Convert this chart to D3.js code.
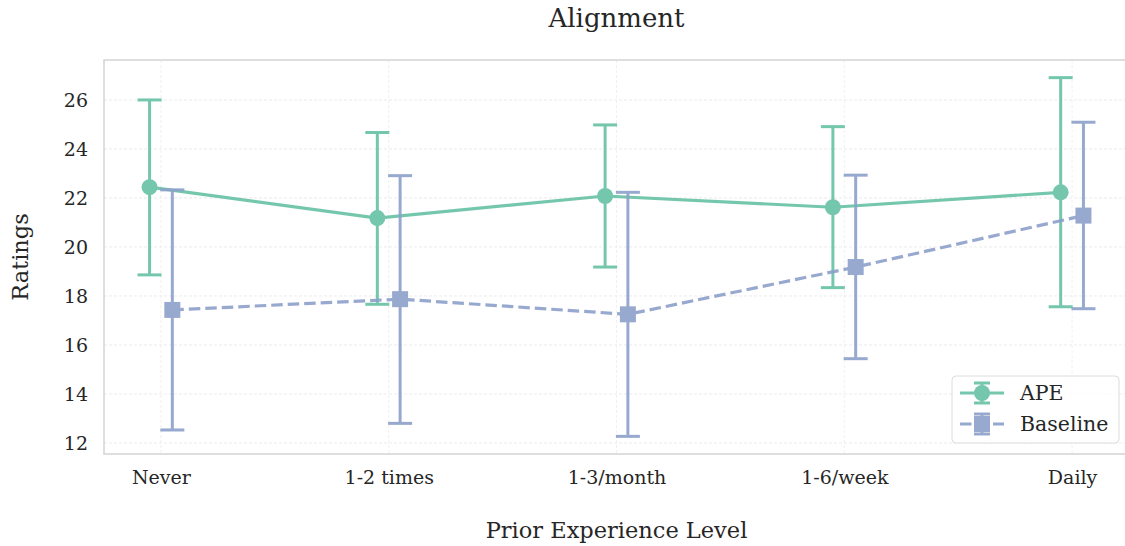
<!DOCTYPE html>
<html>
<head>
<meta charset="utf-8">
<script src="https://cdn.jsdelivr.net/npm/d3@7"></script>
<style>
  html, body { margin: 0; padding: 0; background: #fff; overflow: hidden; }
  svg { display: block; }
  text { font-family: "DejaVu Serif", serif; fill: #262626; }
</style>
</head>
<body>
<svg id="chart" width="1125" height="546"></svg>
<script>
// data
let categories = ["Never", "1-2 times", "1-3/month", "1-6/week", "Daily"];
let apeMean  = [22.44, 21.18, 22.08, 21.62, 22.23];
let apeLow   = [18.86, 17.66, 19.18, 18.34, 17.56];
let apeHigh  = [26.00, 24.67, 24.98, 24.91, 26.91];
let baseMean = [17.43, 17.87, 17.25, 19.18, 21.28];
let baseLow  = [12.53, 12.80, 12.27, 15.44, 17.48];
let baseHigh = [22.33, 22.91, 22.23, 22.93, 25.09];
let yTicks = [12, 14, 16, 18, 20, 22, 24, 26];

let margin = {top: 60, left: 104};
let plotW = 1025, plotH = 394;

let series = [
  {name: "APE", color: "#66c2a5", offset: -0.05, mean: apeMean, low: apeLow, high: apeHigh, shape: "circle", dash: null},
  {name: "Baseline", color: "#8da0cb", offset: 0.05, mean: baseMean, low: baseLow, high: baseHigh, shape: "square", dash: "11.5,5"}
];

var svg = d3.select("#chart");
var g = svg.append("g").attr("transform", "translate(" + margin.left + "," + margin.top + ")");

var x = d3.scaleLinear().domain([-0.25, 4.25]).range([0, plotW]);
var y = d3.scaleLinear().domain([11.55, 27.63]).range([plotH, 0]);

// grid
g.append("g").selectAll("line.hg").data(yTicks).enter().append("line")
  .attr("x1", 0).attr("x2", plotW)
  .attr("y1", d => y(d)).attr("y2", d => y(d))
  .attr("stroke", "#e6e6e6").attr("stroke-width", 0.8).attr("stroke-dasharray", "3,2");
g.append("g").selectAll("line.vg").data(categories).enter().append("line")
  .attr("x1", (d, i) => x(i)).attr("x2", (d, i) => x(i))
  .attr("y1", 0).attr("y2", plotH)
  .attr("stroke", "#ececec").attr("stroke-width", 0.8).attr("stroke-dasharray", "3,2");

// spines (right one falls outside the picture)
g.append("path").attr("d", "M" + (plotW + 20) + ",0H0V" + plotH + "H" + (plotW + 20))
  .attr("fill", "none").attr("stroke", "#d4d4d4").attr("stroke-width", 1.5);

// y axis
var yAxis = g.append("g").call(d3.axisLeft(y).tickValues(yTicks).tickSize(0).tickPadding(16));
yAxis.select(".domain").remove();
yAxis.selectAll("text").style("font-size", "19px").style("font-family", "DejaVu Serif").attr("fill", "#262626");

// x axis
var xAxis = g.append("g").attr("transform", "translate(0," + plotH + ")")
  .call(d3.axisBottom(x).tickValues(d3.range(categories.length)).tickFormat(i => categories[i]).tickSize(0).tickPadding(17));
xAxis.select(".domain").remove();
xAxis.selectAll("text").style("font-size", "19px").style("font-family", "DejaVu Serif").attr("fill", "#262626");

// series
series.forEach(function(s) {
  var pts = s.mean.map((m, i) => ({i: i, m: m, lo: s.low[i], hi: s.high[i]}));
  var sg = g.append("g").attr("opacity", 0.9);
  var line = d3.line().x(d => x(d.i + s.offset)).y(d => y(d.m));
  sg.append("path").datum(pts)
    .attr("fill", "none").attr("stroke", s.color).attr("stroke-width", 3.2)
    .attr("stroke-dasharray", s.dash).attr("d", line);
  // error bars
  var eb = sg.selectAll("g.eb").data(pts).enter().append("g");
  eb.append("line")
    .attr("x1", d => x(d.i + s.offset)).attr("x2", d => x(d.i + s.offset))
    .attr("y1", d => y(d.lo)).attr("y2", d => y(d.hi))
    .attr("stroke", s.color).attr("stroke-width", 3);
  [ "lo", "hi" ].forEach(function(k) {
    eb.append("line")
      .attr("x1", d => x(d.i + s.offset) - 12).attr("x2", d => x(d.i + s.offset) + 12)
      .attr("y1", d => y(d[k])).attr("y2", d => y(d[k]))
      .attr("stroke", s.color).attr("stroke-width", 3);
  });
  // markers
  if (s.shape === "circle") {
    sg.selectAll("circle.mk").data(pts).enter().append("circle")
      .attr("cx", d => x(d.i + s.offset)).attr("cy", d => y(d.m)).attr("r", 8)
      .attr("fill", s.color);
  } else {
    sg.selectAll("rect.mk").data(pts).enter().append("rect")
      .attr("x", d => x(d.i + s.offset) - 8).attr("y", d => y(d.m) - 8)
      .attr("width", 16).attr("height", 16).attr("fill", s.color);
  }
});

// legend
var lg = svg.append("g").attr("transform", "translate(952,376)");
lg.append("rect").attr("width", 167).attr("height", 67).attr("rx", 4)
  .attr("fill", "#fff").attr("fill-opacity", 0.8).attr("stroke", "#dcdcdc").attr("stroke-width", 1);
series.forEach(function(s, k) {
  var cy = 17 + k * 31;
  var it = lg.append("g").attr("opacity", 0.9);
  it.append("line").attr("x1", 8).attr("x2", 52).attr("y1", cy).attr("y2", cy)
    .attr("stroke", s.color).attr("stroke-width", 3).attr("stroke-dasharray", s.dash);
  it.append("line").attr("x1", 30).attr("x2", 30).attr("y1", cy - 10).attr("y2", cy + 10)
    .attr("stroke", s.color).attr("stroke-width", 3);
  [-10, 10].forEach(function(o) {
    it.append("line").attr("x1", 22).attr("x2", 38).attr("y1", cy + o).attr("y2", cy + o)
      .attr("stroke", s.color).attr("stroke-width", 3);
  });
  if (s.shape === "circle") {
    it.append("circle").attr("cx", 30).attr("cy", cy).attr("r", 8).attr("fill", s.color);
  } else {
    it.append("rect").attr("x", 22).attr("y", cy - 8).attr("width", 16).attr("height", 16).attr("fill", s.color);
  }
  lg.append("text").attr("x", 68).attr("y", cy).attr("dy", "0.36em")
    .style("font-size", "20.5px").text(s.name);
});

// titles
svg.append("text").attr("x", margin.left + plotW / 2).attr("y", 27)
  .attr("text-anchor", "middle").style("font-size", "26px").text("Alignment");
svg.append("text").attr("x", margin.left + plotW / 2).attr("y", 538)
  .attr("text-anchor", "middle").style("font-size", "22.5px").text("Prior Experience Level");
svg.append("text").attr("transform", "translate(28," + (margin.top + plotH / 2) + ") rotate(-90)")
  .attr("text-anchor", "middle").style("font-size", "22.5px").text("Ratings");
</script>
</body>
</html>
